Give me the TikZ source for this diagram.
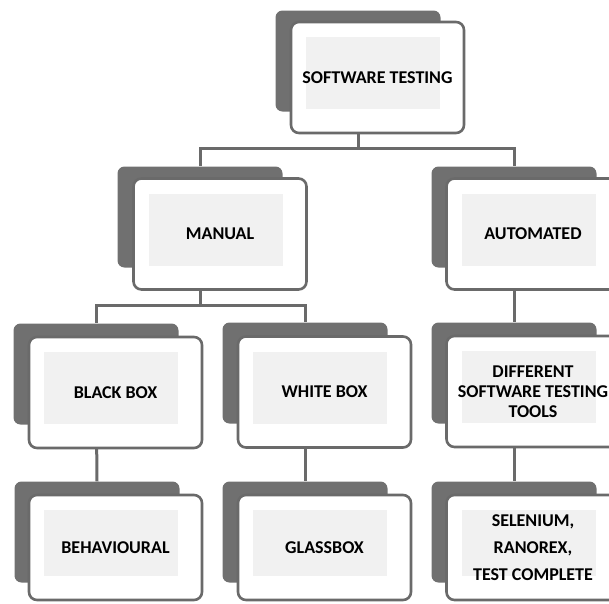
\documentclass[tikz,border=0pt]{standalone}
\usepackage{fontspec}
\setmainfont{Carlito}
\usetikzlibrary{backgrounds}
\definecolor{boxgray}{HTML}{707070}
\definecolor{linegray}{HTML}{6A6A6A}
\definecolor{panel}{HTML}{F1F1F1}
\tikzset{
  backbox/.style={fill=boxgray, rounded corners=7pt, inner sep=0pt,
    minimum width=165pt, minimum height=101pt},
  frontbox/.style={draw=linegray, line width=2.6pt, fill=white,
    rounded corners=8pt, inner sep=0pt, minimum width=173pt,
    minimum height=#1, align=center,
    font=\fontsize{18}{20}\selectfont\bfseries,
    path picture={\fill[panel, sharp corners]
      ([shift={(15pt,-15pt)}]path picture bounding box.north west) rectangle
      ([shift={(-24pt,24pt)}]path picture bounding box.south east);}},
  frontbox/.default=111pt,
  link/.style={draw=linegray, line width=3pt}
}
\begin{document}
\begin{tikzpicture}[x=1pt,y=-1pt]
  \useasboundingbox (0,0) rectangle (609,603);
  \clip (0,0) rectangle (609,603);

  % shadow plates
  \node[backbox] (topbk)   at (358,61)  {};
  \node[backbox] (manbk)   at (200,217) {};
  \node[backbox] (autobk)  at (514,217) {};
  \node[backbox] (blackbk) at (96,374)  {};
  \node[backbox] (whitebk) at (305,373) {};
  \node[backbox] (toolbk)  at (514,373) {};
  \node[backbox] (behbk)   at (97,532)  {};
  \node[backbox] (glassbk) at (305,532) {};
  \node[backbox] (selbk)   at (514,532) {};

  % labelled cards
  \node[frontbox] (top)   at (377.5,77.5) {SOFTWARE TESTING};
  \node[frontbox] (man)   at (220,234)    {MANUAL};
  \node[frontbox] (auto)  at (533,234)    {AUTOMATED};
  \node[frontbox] (black) at (115.5,392.5){BLACK BOX};
  \node[frontbox] (white) at (324.5,392)  {WHITE BOX};
  \node[frontbox] (tool)  at (533,391.5)  {DIFFERENT\\SOFTWARE TESTING\\TOOLS};
  \node[frontbox=105pt] (beh)   at (115.5,547.5) {BEHAVIOURAL};
  \node[frontbox=105pt] (glass) at (324.5,547.5) {GLASSBOX};
  \node[frontbox=105pt] (sel)   at (533,547.5)   {SELENIUM,\\[7pt]RANOREX,\\[7pt]TEST COMPLETE};

  % tree connectors
  \begin{pgfonlayer}{background}
    \draw[link] (topbk.center) -- (topbk.center |- 0,148) -| (manbk.north);
    \draw[link] (topbk.center |- 0,148) -| (autobk.north);
    \draw[link] (manbk.center) -- (manbk.center |- 0,305) -| (blackbk.north);
    \draw[link] (manbk.center |- 0,305) -| (whitebk.north);
    \draw[link] (autobk.center) -- (toolbk.north);
    \draw[link] (blackbk.center) -- (behbk.north);
    \draw[link] (whitebk.center) -- (glassbk.north);
    \draw[link] (toolbk.center) -- (selbk.north);
  \end{pgfonlayer}
\end{tikzpicture}
\end{document}
